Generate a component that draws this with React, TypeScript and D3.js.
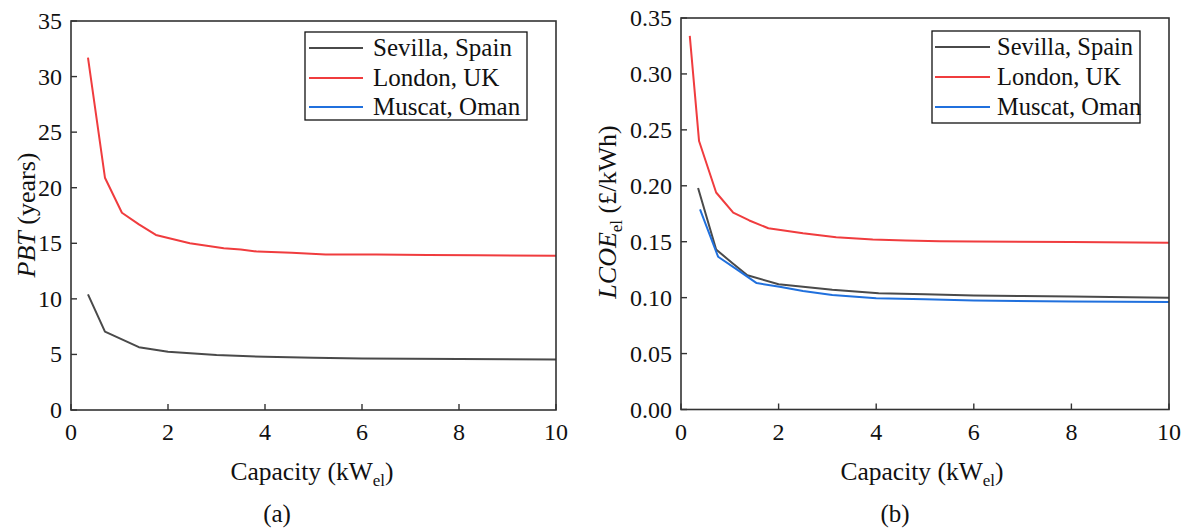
import React from "react";
import * as d3 from "d3";

const seriesNames = ["Sevilla, Spain", "London, UK", "Muscat, Oman"];
const seriesColors = ["#4a4a4a", "#f03c3e", "#2070dd"];

// Panel (a): PBT (years)
const pbtSevillaCap = [0.35, 0.7, 1.4, 2.0, 3.0, 4.0, 5.0, 6.0, 7.0, 8.0, 10.0];
const pbtSevillaVal = [10.4, 7.05, 5.65, 5.25, 4.95, 4.78, 4.7, 4.63, 4.6, 4.58, 4.55];
const pbtLondonCap = [0.35, 0.7, 1.05, 1.4, 1.75, 2.45, 3.15, 3.5, 3.85, 4.55, 5.25, 6.3, 7.35, 8.4, 10.0];
const pbtLondonVal = [31.7, 20.9, 17.75, 16.7, 15.75, 15.0, 14.55, 14.45, 14.25, 14.15, 14.0, 13.98, 13.95, 13.92, 13.88];

// Panel (b): LCOE_el (£/kWh)
const lcoeSevillaCap = [0.35, 0.72, 1.05, 1.36, 2.0, 3.1, 4.05, 5.0, 6.0, 7.0, 8.0, 10.0];
const lcoeSevillaVal = [0.198, 0.143, 0.131, 0.12, 0.112, 0.107, 0.104, 0.103, 0.102, 0.1015, 0.101, 0.1];
const lcoeLondonCap = [0.18, 0.37, 0.72, 1.07, 1.4, 1.79, 2.5, 3.18, 3.93, 4.6, 5.3, 6.0, 8.0, 10.0];
const lcoeLondonVal = [0.334, 0.24, 0.194, 0.176, 0.169, 0.162, 0.1575, 0.154, 0.152, 0.151, 0.1505, 0.1502, 0.1498, 0.149];
const lcoeMuscatCap = [0.39, 0.76, 1.15, 1.55, 2.02, 2.5, 3.1, 4.0, 5.0, 6.0, 8.0, 10.0];
const lcoeMuscatVal = [0.179, 0.1366, 0.125, 0.113, 0.1098, 0.106, 0.1024, 0.0994, 0.0985, 0.0975, 0.0965, 0.096];

const xTicks = [0, 2, 4, 6, 8, 10];
const pbtTicks = [0, 5, 10, 15, 20, 25, 30, 35];
const lcoeTicks = [0, 0.05, 0.1, 0.15, 0.2, 0.25, 0.3, 0.35];

type Series = { name: string; color: string; cap: number[]; val: number[] };

const FONT = '"Liberation Serif"';
const fs = (size: number): React.CSSProperties => ({ fontFamily: FONT, fontSize: size, fill: "#111" });

function Panel(props: {
  x0: number; x1: number; y0: number; y1: number;
  yMax: number; yTicks: number[]; yFmt: (v: number) => string;
  series: Series[]; yLabel: React.ReactNode; yLabelX: number; yLabelY: number;
  letter: string; letterX: number; xLabelX: number; legendFont: number;
  legend: { x: number; y: number; w: number; h: number; rowY: number[]; lineX0: number; lineX1: number; textX: number };
}) {
  const { x0, x1, y0, y1 } = props;
  const xs = d3.scaleLinear().domain([0, 10]).range([x0, x1]);
  const ys = d3.scaleLinear().domain([0, props.yMax]).range([y1, y0]);
  const axisColor = "#333";
  const lg = props.legend;
  return (
    <g>
      {props.series.map((s) => {
        const line = d3.line<number>().x((_, i) => xs(s.cap[i])).y((v) => ys(v));
        return <path key={s.name} d={line(s.val) || ""} fill="none" stroke={s.color} strokeWidth={2} strokeLinejoin="round" />;
      })}
      <rect x={x0} y={y0} width={x1 - x0} height={y1 - y0} fill="none" stroke={axisColor} strokeWidth={1.6} />
      {xTicks.map((t) => (
        <g key={"x" + t}>
          <line x1={xs(t)} x2={xs(t)} y1={y1} y2={y1 - 6} stroke={axisColor} strokeWidth={1.4} />
          <text x={xs(t)} y={440} textAnchor="middle" style={fs(24)}>{t}</text>
        </g>
      ))}
      {props.yTicks.map((t) => (
        <g key={"y" + t}>
          <line x1={x0} x2={x0 + 6} y1={ys(t)} y2={ys(t)} stroke={axisColor} strokeWidth={1.4} />
          <text x={x0 - 9} y={ys(t) + 8} textAnchor="end" style={fs(24)}>{props.yFmt(t)}</text>
        </g>
      ))}
      <text x={props.xLabelX} y={480} textAnchor="middle" style={fs(25.5)}>
        Capacity (kW<tspan dy={6} style={{ fontSize: 17 }}>el</tspan><tspan dy={-6}>)</tspan>
      </text>
      <text x={props.letterX} y={522} textAnchor="middle" style={fs(25)}>{props.letter}</text>
      <text transform={`translate(${props.yLabelX},${props.yLabelY}) rotate(-90)`} textAnchor="middle" style={fs(26)}>
        {props.yLabel}
      </text>
      <rect x={lg.x} y={lg.y} width={lg.w} height={lg.h} fill="#fff" stroke="#111" strokeWidth={1.3} />
      {seriesNames.map((n, i) => (
        <g key={n}>
          <line x1={lg.lineX0} x2={lg.lineX1} y1={lg.rowY[i]} y2={lg.rowY[i]} stroke={seriesColors[i]} strokeWidth={2} />
          <text x={lg.textX} y={lg.rowY[i] + 8} style={fs(props.legendFont)}>{n}</text>
        </g>
      ))}
    </g>
  );
}

export default function App() {
  const left: Series[] = [
    { name: seriesNames[0], color: seriesColors[0], cap: pbtSevillaCap, val: pbtSevillaVal },
    { name: seriesNames[1], color: seriesColors[1], cap: pbtLondonCap, val: pbtLondonVal },
  ];
  const right: Series[] = [
    { name: seriesNames[0], color: seriesColors[0], cap: lcoeSevillaCap, val: lcoeSevillaVal },
    { name: seriesNames[1], color: seriesColors[1], cap: lcoeLondonCap, val: lcoeLondonVal },
    { name: seriesNames[2], color: seriesColors[2], cap: lcoeMuscatCap, val: lcoeMuscatVal },
  ];
  return (
    <svg width={1188} height={532} style={{ position: "absolute", left: 0, top: 0, background: "#fff" }}>
      <Panel
        x0={71} x1={556} y0={21} y1={410} yMax={35} yTicks={pbtTicks} yFmt={(v) => String(v)}
        series={left} yLabelX={35} yLabelY={215}
        yLabel={<><tspan style={{ fontStyle: "italic" }}>PBT</tspan> (years)</>}
        letter="(a)" letterX={277} xLabelX={312} legendFont={25}
        legend={{ x: 305, y: 32, w: 222, h: 88, rowY: [48, 78, 107], lineX0: 309, lineX1: 363, textX: 373 }}
      />
      <Panel
        x0={681} x1={1169} y0={18} y1={409.5} yMax={0.35} yTicks={lcoeTicks} yFmt={(v) => v.toFixed(2)}
        series={right} yLabelX={616} yLabelY={212}
        yLabel={<><tspan style={{ fontStyle: "italic" }}>LCOE</tspan><tspan style={{ fontSize: 17 }} dy={6}>el</tspan><tspan dy={-6}> (£/kWh)</tspan></>}
        letter="(b)" letterX={895} xLabelX={922} legendFont={24.5}
        legend={{ x: 932, y: 31, w: 208, h: 92, rowY: [47, 77, 107], lineX0: 935, lineX1: 990, textX: 997 }}
      />
    </svg>
  );
}
